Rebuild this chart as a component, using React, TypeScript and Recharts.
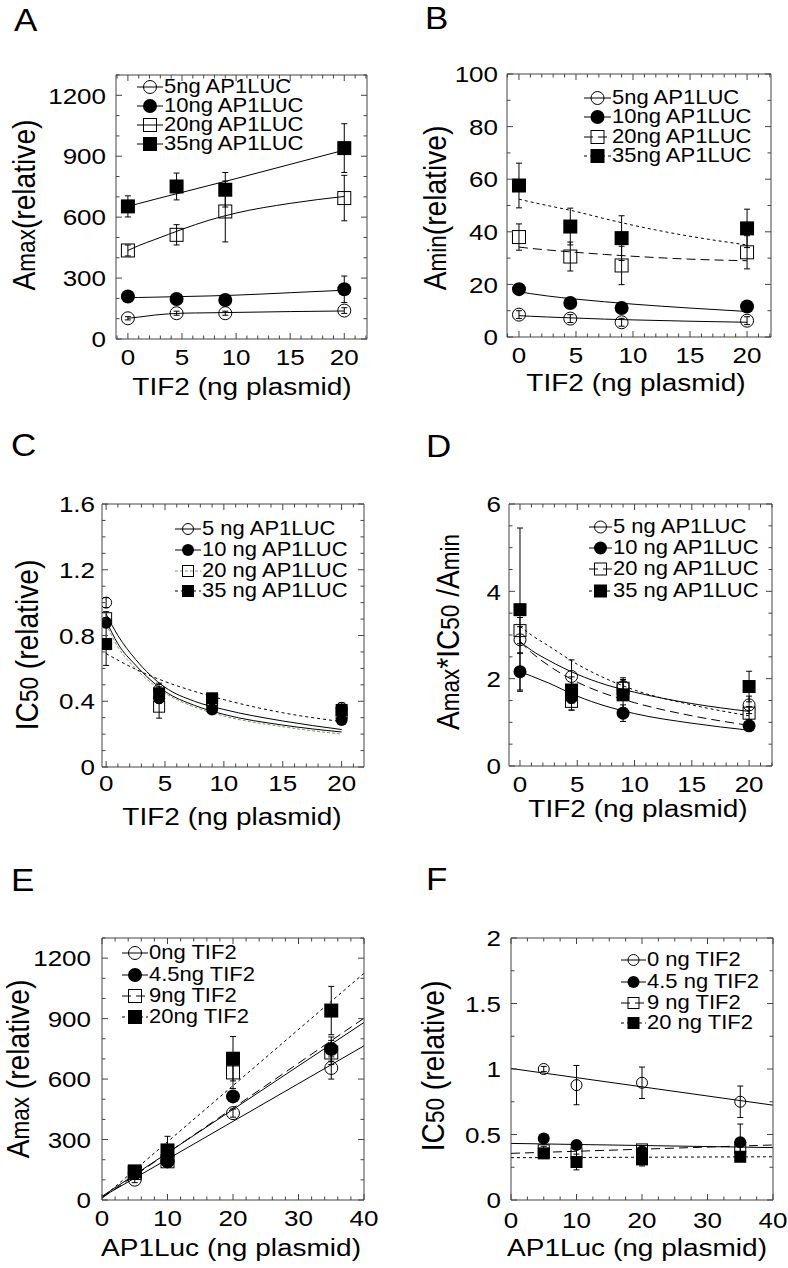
import React from 'react';
import { ComposedChart, Scatter, Line, XAxis, YAxis, ErrorBar } from 'recharts';

const FONT = '"Liberation Sans", Arial, Helvetica, sans-serif';
const SQ = 0.88; // the source figure is slightly squashed vertically
const INK = '#000';
const BOX = '#444';

// doses
const tifDose = [0, 4.5, 9, 20];
const lucDose = [5, 10, 20, 35];
const tifFitX = [0, 1, 2.5, 5, 7.5, 10, 15, 20];
const lucFitX = [0, 40];

// tick labels
const tifTicks = [0, 5, 10, 15, 20];
const lucTicks = [0, 10, 20, 30, 40];
const amaxTicks = [0, 300, 600, 900, 1200];
const aminTicks = [0, 20, 40, 60, 80, 100];
const ic50TicksC = [0, 0.4, 0.8, 1.2, 1.6];
const ratioTicks = [0, 2, 4, 6];
const ic50TicksF = [0, 0.5, 1, 1.5, 2];

// legend labels
const lucLegendA = ['5ng AP1LUC', '10ng AP1LUC', '20ng AP1LUC', '35ng AP1LUC'];
const lucLegendC = ['5 ng AP1LUC', '10 ng AP1LUC', '20 ng AP1LUC', '35 ng AP1LUC'];
const tifLegendE = ['0ng TIF2', '4.5ng TIF2', '9ng TIF2', '20ng TIF2'];
const tifLegendF = ['0 ng TIF2', '4.5 ng TIF2', '9 ng TIF2', '20 ng TIF2'];

// A: Amax vs TIF2
const amax5 = [102, 127, 127, 140];
const amax10 = [209, 197, 192, 245];
const amax20 = [436, 513, 628, 694];
const amax35 = [653, 751, 735, 940];
const amax5Err = [8, 10, 10, 14];
const amax10Err = [10, 10, 10, 65];
const amax20Err = [27, 50, 150, 112];
const amax35Err = [52, 66, 85, 120];
const amax5Fit = [102, 108, 118, 127, 129, 131, 135, 138];
const amax10Fit = [204, 204.5, 206, 209, 212, 216, 228, 240];
const amax20Fit = [436, 460, 490, 540, 585, 620, 668, 702];
const amax35Fit = [653, 667, 688, 722, 756, 790, 860, 930];

// B: Amin vs TIF2
const amin5 = [8.5, 7.0, 5.6, 6.2];
const amin10 = [18.2, 12.9, 11.0, 11.6];
const amin20 = [38, 30.6, 27.2, 32.2];
const amin35 = [57.6, 42, 37.6, 41.3];
const amin5Err = [1.5, 1.5, 1.5, 1.5];
const amin10Err = [1.5, 1.5, 1.5, 1.5];
const amin20Err = [5, 5.5, 7.3, 6.3];
const amin35Err = [8.5, 7, 8.5, 7.3];
const amin5Fit = [8.1, 7.9, 7.6, 7.2, 6.8, 6.5, 6.0, 5.6];
const amin10Fit = [17.2, 16.5, 15.6, 14.4, 13.4, 12.5, 11.0, 9.7];
const amin20Fit = [34.2, 33.7, 33.1, 32.2, 31.4, 30.7, 29.6, 29.0];
const amin35Fit = [52.4, 51.4, 50.0, 47.7, 45.0, 42.5, 38.3, 35.0];

// C: IC50 vs TIF2
const icC5 = [1.0, 0.47, 0.37, 0.36];
const icC10 = [0.878, 0.418, 0.35, 0.286];
const icC20 = [0.905, 0.367, 0.408, 0.327];
const icC35 = [0.748, 0.448, 0.418, 0.347];
const icC5Err = [0.03, 0.04, 0.02, 0.03];
const icC10Err = [0.03, 0.03, 0.02, 0.02];
const icC20Err = [0.04, 0.07, 0.03, 0.03];
const icC35Err = [0.13, 0.04, 0.03, 0.03];
const icC5Fit = [0.93, 0.8, 0.655, 0.485, 0.4, 0.35, 0.28, 0.228];
const icC10Fit = [0.89, 0.75, 0.62, 0.46, 0.375, 0.32, 0.255, 0.213];
const icC20Fit = [0.87, 0.73, 0.6, 0.45, 0.365, 0.31, 0.245, 0.2];
const icC35Fit = [0.69, 0.65, 0.595, 0.52, 0.46, 0.41, 0.33, 0.276];

// D: Amax*IC50/Amin vs TIF2
const ratio5 = [2.89, 2.05, 1.82, 1.4];
const ratio10 = [2.16, 1.57, 1.21, 0.92];
const ratio20 = [3.1, 1.48, 1.78, 1.21];
const ratio35 = [3.58, 1.74, 1.63, 1.82];
const ratio5Err = [0.3, 0.38, 0.2, 0.2];
const ratio10Err = [0.42, 0.29, 0.19, 0.08];
const ratio20Err = [0.3, 0.2, 0.2, 0.15];
const ratio35Err = [1.87, 0.3, 0.3, 0.35];
const ratio5Fit = [2.85, 2.65, 2.42, 2.1, 1.86, 1.69, 1.43, 1.25];
const ratio10Fit = [2.16, 2.06, 1.9, 1.6, 1.37, 1.2, 0.98, 0.82];
const ratio20Fit = [2.85, 2.6, 2.3, 1.92, 1.65, 1.45, 1.15, 0.93];
const ratio35Fit = [3.2, 3.0, 2.75, 2.33, 2.0, 1.74, 1.4, 1.15];

// E: Amax vs AP1Luc
const ampE0 = [101, 192, 431, 655];
const ampE45 = [134, 192, 514, 749];
const ampE9 = [134, 192, 633, 732];
const ampE20 = [142, 246, 701, 940];
const ampE0Err = [15, 20, 20, 55];
const ampE45Err = [15, 20, 25, 60];
const ampE9Err = [15, 20, 80, 60];
const ampE20Err = [20, 70, 110, 120];
const ampE0Fit = [15, 765];
const ampE45Fit = [18, 881];
const ampE9Fit = [10, 902];
const ampE20Fit = [10, 1125];

// F: IC50 vs AP1Luc
const icF0 = [1.0, 0.877, 0.895, 0.75];
const icF45 = [0.47, 0.42, 0.37, 0.44];
const icF9 = [0.38, 0.356, 0.386, 0.4];
const icF20 = [0.356, 0.29, 0.31, 0.33];
const icF0Err = [0.02, 0.15, 0.12, 0.12];
const icF45Err = [0.03, 0.03, 0.03, 0.14];
const icF9Err = [0.03, 0.03, 0.03, 0.03];
const icF20Err = [0.03, 0.06, 0.05, 0.03];
const icF0Fit = [1.004, 0.724];
const icF45Fit = [0.432, 0.4];
const icF9Fit = [0.356, 0.42];
const icF20Fit = [0.323, 0.33];

type Sym = 'oc' | 'fc' | 'os' | 'fs';
const syms: Sym[] = ['oc', 'fc', 'os', 'fs'];

interface SeriesDef {
  name: string;
  sym: Sym;
  xs: number[];
  ys: number[];
  err: number[];
  fitX: number[];
  fitY: number[];
  dash?: string;
  color: string;
}

interface PanelDef {
  letter: string;
  letterPos: [number, number];
  box: [number, number, number, number];
  plot: [number, number, number, number];
  xDomain: [number, number];
  yDomain: [number, number];
  xMajor: number[];
  xStep: number;
  yMajor: number[];
  yStep: number;
  series: SeriesDef[];
  curve: 'monotone' | 'linear';
  symSize: number;
  legendRows: number[];
  legendLine: [number, number];
  legendText: number;
  xTitle: string;
  xTitlePos: [number, number];
  yTitle: React.ReactNode;
  yTitlePos: [number, number];
  yGap: number;
  xGap: number;
}

function buildSeries(
  names: string[],
  xs: number[],
  ys: number[][],
  errs: number[][],
  fitX: number[],
  fits: number[][],
  dashes: (string | undefined)[],
  colors: string[] = [INK, INK, INK, INK]
): SeriesDef[] {
  return names.map((name, i) => ({
    name,
    sym: syms[i],
    xs,
    ys: ys[i],
    err: errs[i],
    fitX,
    fitY: fits[i],
    dash: dashes[i],
    color: colors[i],
  }));
}

function minorTicks(domain: [number, number], step: number, majors: number[]) {
  const out: number[] = [];
  const start = Math.ceil(domain[0] / step - 1e-9);
  const end = Math.floor(domain[1] / step + 1e-9);
  for (let k = start; k <= end; k++) out.push(Number((k * step).toFixed(4)));
  majors.forEach((m) => {
    if (!out.some((v) => Math.abs(v - m) < 1e-6)) out.push(m);
  });
  return out.sort((a, b) => a - b);
}

const tifDashes = [undefined, undefined, '9 5', '3 3'];

const sm = (t: string) => <span style={{ fontSize: '0.8em' }}>{t}</span>;

const panels: PanelDef[] = [
  {
    letter: 'A',
    letterPos: [14, 19],
    box: [0, 0, 394, 420],
    plot: [116, 75, 367, 339],
    xDomain: [-1.1, 22.1],
    yDomain: [0, 1300],
    xMajor: tifTicks,
    xStep: 1,
    yMajor: amaxTicks,
    yStep: 100,
    series: buildSeries(
      lucLegendA,
      tifDose,
      [amax5, amax10, amax20, amax35],
      [amax5Err, amax10Err, amax20Err, amax35Err],
      tifFitX,
      [amax5Fit, amax10Fit, amax20Fit, amax35Fit],
      [undefined, undefined, undefined, undefined]
    ),
    curve: 'monotone',
    symSize: 14,
    legendRows: [87, 106, 125, 144],
    legendLine: [137, 163],
    legendText: 164,
    xTitle: 'TIF2 (ng plasmid)',
    xTitlePos: [242, 387],
    yTitle: <>A{sm('max')}(relative)</>,
    yTitlePos: [25, 205],
    yGap: 10,
    xGap: 18,
  },
  {
    letter: 'B',
    letterPos: [425, 17],
    box: [394, 0, 394, 420],
    plot: [507, 74, 771, 337],
    xDomain: [-1.05, 22.1],
    yDomain: [0, 100],
    xMajor: tifTicks,
    xStep: 1,
    yMajor: aminTicks,
    yStep: 10,
    series: buildSeries(
      lucLegendA,
      tifDose,
      [amin5, amin10, amin20, amin35],
      [amin5Err, amin10Err, amin20Err, amin35Err],
      tifFitX,
      [amin5Fit, amin10Fit, amin20Fit, amin35Fit],
      tifDashes
    ),
    curve: 'monotone',
    symSize: 14,
    legendRows: [98, 117, 137, 156],
    legendLine: [584, 611],
    legendText: 612,
    xTitle: 'TIF2 (ng plasmid)',
    xTitlePos: [636, 383],
    yTitle: <>A{sm('min')}(relative)</>,
    yTitlePos: [436, 208],
    yGap: 9,
    xGap: 18,
  },
  {
    letter: 'C',
    letterPos: [11, 444],
    box: [0, 420, 394, 420],
    plot: [102, 504, 364, 767],
    xDomain: [-0.35, 21.9],
    yDomain: [0, 1.6],
    xMajor: tifTicks,
    xStep: 1,
    yMajor: ic50TicksC,
    yStep: 0.1,
    series: buildSeries(
      lucLegendC,
      tifDose,
      [icC5, icC10, icC20, icC35],
      [icC5Err, icC10Err, icC20Err, icC35Err],
      tifFitX,
      [icC5Fit, icC10Fit, icC20Fit, icC35Fit],
      [undefined, undefined, '3 2', '3 3'],
      [INK, INK, '#7d9a6e', INK]
    ),
    curve: 'monotone',
    symSize: 12,
    legendRows: [529, 550, 571, 591],
    legendLine: [175, 201],
    legendText: 202,
    xTitle: 'TIF2 (ng plasmid)',
    xTitlePos: [232, 817],
    yTitle: <>IC{sm('50')} (relative)</>,
    yTitlePos: [28, 645],
    yGap: 7,
    xGap: 16,
  },
  {
    letter: 'D',
    letterPos: [426, 445],
    box: [394, 420, 394, 420],
    plot: [509, 504, 772, 766],
    xDomain: [-0.96, 22],
    yDomain: [0, 6],
    xMajor: tifTicks,
    xStep: 1,
    yMajor: ratioTicks,
    yStep: 0.5,
    series: buildSeries(
      lucLegendC,
      tifDose,
      [ratio5, ratio10, ratio20, ratio35],
      [ratio5Err, ratio10Err, ratio20Err, ratio35Err],
      tifFitX,
      [ratio5Fit, ratio10Fit, ratio20Fit, ratio35Fit],
      tifDashes
    ),
    curve: 'monotone',
    symSize: 13,
    legendRows: [527, 548, 569, 591],
    legendLine: [589, 612],
    legendText: 613,
    xTitle: 'TIF2 (ng plasmid)',
    xTitlePos: [638, 809],
    yTitle: (
      <>
        A{sm('max')}*IC{sm('50')} /A{sm('min')}
      </>
    ),
    yTitlePos: [449, 632],
    yGap: 8,
    xGap: 18,
  },
  {
    letter: 'E',
    letterPos: [11, 880],
    box: [0, 840, 394, 428],
    plot: [102, 938, 364, 1200],
    xDomain: [0, 40],
    yDomain: [0, 1300],
    xMajor: lucTicks,
    xStep: 2,
    yMajor: amaxTicks,
    yStep: 100,
    series: buildSeries(
      tifLegendE,
      lucDose,
      [ampE0, ampE45, ampE9, ampE20],
      [ampE0Err, ampE45Err, ampE9Err, ampE20Err],
      lucFitX,
      [ampE0Fit, ampE45Fit, ampE9Fit, ampE20Fit],
      tifDashes
    ),
    curve: 'linear',
    symSize: 14,
    legendRows: [953, 975, 996, 1017],
    legendLine: [122, 148],
    legendText: 149,
    xTitle: 'AP1Luc (ng plasmid)',
    xTitlePos: [231, 1248],
    yTitle: <>A{sm('max')} (relative)</>,
    yTitlePos: [19, 1069],
    yGap: 11,
    xGap: 18,
  },
  {
    letter: 'F',
    letterPos: [426, 879],
    box: [394, 840, 394, 428],
    plot: [511, 938, 773, 1200],
    xDomain: [0, 40],
    yDomain: [0, 2],
    xMajor: lucTicks,
    xStep: 2.5,
    yMajor: ic50TicksF,
    yStep: 0.25,
    series: buildSeries(
      tifLegendF,
      lucDose,
      [icF0, icF45, icF9, icF20],
      [icF0Err, icF45Err, icF9Err, icF20Err],
      lucFitX,
      [icF0Fit, icF45Fit, icF9Fit, icF20Fit],
      tifDashes
    ),
    curve: 'linear',
    symSize: 12,
    legendRows: [960, 982, 1003, 1023],
    legendLine: [621, 646],
    legendText: 647,
    xTitle: 'AP1Luc (ng plasmid)',
    xTitlePos: [637, 1248],
    yTitle: <>IC{sm('50')} (relative)</>,
    yTitlePos: [434, 1066],
    yGap: 10,
    xGap: 20,
  },
];

function marker(sym: Sym, cx: number, cy: number, size: number) {
  const h = size / 2;
  if (sym === 'oc') return <circle cx={cx} cy={cy} r={h - 0.5} fill="none" stroke={INK} strokeWidth={1} />;
  if (sym === 'fc') return <circle cx={cx} cy={cy} r={h} fill={INK} />;
  if (sym === 'os')
    return <rect x={cx - h + 0.5} y={cy - h + 0.5} width={size - 1} height={size - 1} fill="none" stroke={INK} strokeWidth={1} />;
  return <rect x={cx - h} y={cy - h} width={size} height={size} fill={INK} />;
}

const TICK_FS = 26;

function makeTick(side: 'b' | 't' | 'l' | 'r', majors: number[], gap: number) {
  return (p: any) => {
    const { x, y, payload } = p;
    const v = payload.value;
    const major = majors.some((m) => Math.abs(m - v) < 1e-6);
    const len = major ? 6 : 3.5;
    const dx = side === 'l' ? len : side === 'r' ? -len : 0;
    const dy = side === 'b' ? -len : side === 't' ? len : 0;
    return (
      <g>
        <line x1={x} y1={y} x2={x + dx} y2={y + dy} stroke={BOX} strokeWidth={1} />
        {major && side === 'b' && (
          <text
            transform={`translate(${x},${y}) scale(1,${SQ})`}
            x={0}
            y={gap / SQ + 0.36 * TICK_FS}
            textAnchor="middle"
            fontSize={TICK_FS}
            fontFamily={FONT}
            fill={INK}
          >
            {String(v)}
          </text>
        )}
        {major && side === 'l' && (
          <text
            transform={`translate(${x - gap},${y}) scale(1,${SQ})`}
            x={0}
            y={0.36 * TICK_FS}
            textAnchor="end"
            fontSize={TICK_FS}
            fontFamily={FONT}
            fill={INK}
          >
            {String(v)}
          </text>
        )}
      </g>
    );
  };
}

function Txt({
  x,
  y,
  size,
  align = 'left',
  lh = 1,
  children,
}: {
  x: number;
  y: number;
  size: number;
  align?: 'left' | 'center';
  lh?: number;
  children: React.ReactNode;
}) {
  const h = size * lh;
  return (
    <div
      style={{
        position: 'absolute',
        left: x,
        top: y - h / 2,
        fontSize: size,
        lineHeight: `${h}px`,
        whiteSpace: 'nowrap',
        transform: `translateX(${align === 'center' ? '-50%' : '0'}) scaleY(${SQ})`,
        transformOrigin: '50% 50%',
      }}
    >
      {children}
    </div>
  );
}

function Panel({ d }: { d: PanelDef }) {
  const [bx, by, bw, bh] = d.box;
  const [L, T, R, B] = d.plot;
  const xTicks = minorTicks(d.xDomain, d.xStep, d.xMajor);
  const yTicks = minorTicks(d.yDomain, d.yStep, d.yMajor);
  const axisCommon = {
    type: 'number' as const,
    allowDataOverflow: true,
    interval: 0 as const,
    tickSize: 0,
    tickMargin: 0,
    tickLine: false,
    axisLine: { stroke: BOX, strokeWidth: 1 },
  };
  const [lx0, lx1] = d.legendLine;
  const lw = lx1 - lx0;
  return (
    <>
      <div style={{ position: 'absolute', left: bx, top: by }}>
        <ComposedChart
          width={bw}
          height={bh}
          margin={{ left: L - bx - 1, top: T - by - 1, right: bx + bw - R - 1, bottom: by + bh - B - 1 }}
        >
          <XAxis {...axisCommon} xAxisId="b" dataKey="x" orientation="bottom" domain={d.xDomain} ticks={xTicks} height={1} tick={makeTick('b', d.xMajor, d.xGap)} />
          <XAxis {...axisCommon} xAxisId="t" dataKey="x" orientation="top" domain={d.xDomain} ticks={xTicks} height={1} tick={makeTick('t', d.xMajor, 0)} />
          <YAxis {...axisCommon} yAxisId="l" dataKey="y" orientation="left" domain={d.yDomain} ticks={yTicks} width={1} tick={makeTick('l', d.yMajor, d.yGap)} />
          <YAxis {...axisCommon} yAxisId="r" dataKey="y" orientation="right" domain={d.yDomain} ticks={yTicks} width={1} tick={makeTick('r', d.yMajor, 0)} />
          {d.series.map((s) => (
            <Line
              key={'fit' + s.name}
              xAxisId="b"
              yAxisId="l"
              data={s.fitX.map((x, i) => ({ x, y: s.fitY[i] }))}
              dataKey="y"
              type={d.curve}
              stroke={s.color}
              strokeWidth={1}
              strokeDasharray={s.dash}
              dot={false}
              activeDot={false}
              isAnimationActive={false}
            />
          ))}
          {d.series.map((s) => (
            <Scatter
              key={'pts' + s.name}
              xAxisId="b"
              yAxisId="l"
              data={s.xs.map((x, i) => ({ x, y: s.ys[i], e: s.err[i] }))}
              dataKey="y"
              isAnimationActive={false}
              shape={(p: any) => marker(s.sym, p.cx, p.cy, d.symSize)}
            >
              <ErrorBar dataKey="e" direction="y" width={3} stroke={INK} strokeWidth={1} />
            </Scatter>
          ))}
        </ComposedChart>
      </div>

      <Txt x={d.letterPos[0]} y={d.letterPos[1]} size={35}>
        {d.letter}
      </Txt>

      {d.series.map((s, i) => (
        <React.Fragment key={'lg' + s.name}>
          <svg
            style={{ position: 'absolute', left: lx0, top: d.legendRows[i] - 8 }}
            width={lw}
            height={16}
          >
            <line x1={0} y1={8} x2={lw} y2={8} stroke={s.color} strokeWidth={1} strokeDasharray={s.dash} />
            {marker(s.sym, lw / 2, 8, Math.min(d.symSize, 14))}
          </svg>
          <Txt x={d.legendText} y={d.legendRows[i]} size={22} lh={0.8}>
            {s.name}
          </Txt>
        </React.Fragment>
      ))}

      <Txt x={d.xTitlePos[0]} y={d.xTitlePos[1]} size={28} align="center" lh={0.8}>
        {d.xTitle}
      </Txt>

      <div
        style={{
          position: 'absolute',
          left: d.yTitlePos[0],
          top: d.yTitlePos[1],
          fontSize: 32,
          lineHeight: '26px',
          whiteSpace: 'nowrap',
          transform: `translate(-50%,-50%) scaleY(${SQ}) rotate(-90deg)`,
        }}
      >
        {d.yTitle}
      </div>
    </>
  );
}

export default function App() {
  return (
    <div
      style={{
        position: 'absolute',
        left: 0,
        top: 0,
        width: 788,
        height: 1268,
        background: '#fff',
        fontFamily: FONT,
        color: INK,
        overflow: 'hidden',
      }}
    >
      {panels.map((d) => (
        <Panel key={d.letter} d={d} />
      ))}
    </div>
  );
}
